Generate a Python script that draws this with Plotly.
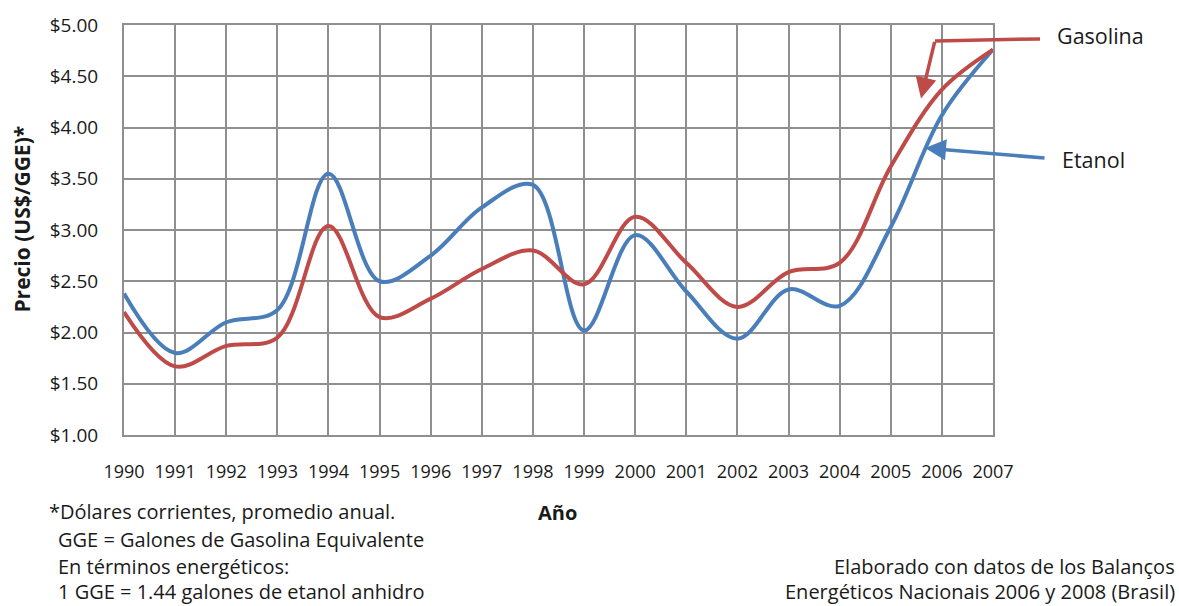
import plotly.graph_objects as go

years = list(range(1990, 2008))
etanol = [2.38, 1.80, 2.10, 2.22, 3.55, 2.50, 2.75, 3.22, 3.44, 2.02, 2.95, 2.40, 1.94, 2.42, 2.26, 3.03, 4.12, 4.76]
gasolina = [2.20, 1.67, 1.87, 1.95, 3.04, 2.15, 2.33, 2.62, 2.80, 2.47, 3.13, 2.68, 2.25, 2.59, 2.68, 3.62, 4.37, 4.76]
y_ticks = [1.0, 1.5, 2.0, 2.5, 3.0, 3.5, 4.0, 4.5, 5.0]
y_tick_labels = ["$%.2f" % v for v in y_ticks]

W, H = 1179, 606
L, R, T, B = 124, 993, 22, 435
def px(x): return (x - L) / (R - L)
def py(y): return (B - y) / (B - T)

FONT = "Open Sans, sans-serif"
BLUE = "#4a7ebb"
RED = "#be4b48"
TXT = "#1a1a1a"

fig = go.Figure()
fig.add_trace(go.Scatter(x=years, y=etanol, mode="lines", name="Etanol",
                         line=dict(color=BLUE, width=4, shape="spline", smoothing=1.0)))
fig.add_trace(go.Scatter(x=years, y=gasolina, mode="lines", name="Gasolina",
                         line=dict(color=RED, width=4, shape="spline", smoothing=1.0)))

fig.update_layout(
    width=W, height=H,
    margin=dict(l=L, r=W - R, t=T, b=H - B),
    paper_bgcolor="white", plot_bgcolor="white",
    showlegend=False,
    font=dict(family=FONT, size=20, color=TXT),
    xaxis=dict(range=[1990, 2007], tickmode="array", tickvals=years,
               ticktext=[str(y) for y in years], showgrid=True, gridcolor="#8f8f8f",
               gridwidth=2, showline=True, linecolor="#8f8f8f", linewidth=2,
               ticks="", ticklabelstandoff=19, tickfont=dict(size=18), mirror=True,
               zeroline=False),
    yaxis=dict(range=[1.0, 5.0], tickmode="array", tickvals=y_ticks, ticktext=y_tick_labels,
               showgrid=True, gridcolor="#8f8f8f", gridwidth=2, showline=True,
               linecolor="#8f8f8f", linewidth=2, ticks="", ticklabelstandoff=20,
               tickfont=dict(size=19), mirror=True, zeroline=False),
)

# y-axis title placed explicitly
fig.add_annotation(xref="paper", yref="paper", x=px(22), y=py(218), xanchor="center",
                   yanchor="middle", text="<b>Precio (US$/GGE)*</b>", textangle=-90,
                   showarrow=False, font=dict(size=21))

# Arrows and labels
fig.add_shape(type="line", xref="paper", yref="paper",
              x0=px(935), y0=py(38), x1=px(1040), y1=py(36),
              line=dict(color=RED, width=3.5))
fig.add_annotation(xref="paper", yref="paper", x=px(921), y=py(96), ax=14, ay=-58,
                   text="", showarrow=True, arrowhead=2, arrowsize=1.2, arrowwidth=3.5,
                   arrowcolor=RED)
fig.add_annotation(xref="paper", yref="paper", x=px(925), y=py(146), ax=121, ay=10,
                   text="", showarrow=True, arrowhead=2, arrowsize=1.2, arrowwidth=3.5,
                   arrowcolor=BLUE)
fig.add_annotation(xref="paper", yref="paper", x=px(1055), y=py(33), xanchor="left",
                   yanchor="middle", text="Gasolina", showarrow=False, font=dict(size=21.5))
fig.add_annotation(xref="paper", yref="paper", x=px(1060), y=py(157), xanchor="left",
                   yanchor="middle", text="Etanol", showarrow=False, font=dict(size=21.5))

fig.add_annotation(xref="paper", yref="paper", x=px(557), y=py(513), xanchor="center",
                   yanchor="middle", text="<b>Año</b>", showarrow=False, font=dict(size=20))

notes = [(47, 512, "*Dólares corrientes, promedio anual."),
         (56, 540, "GGE = Galones de Gasolina Equivalente"),
         (56, 567, "En términos energéticos:"),
         (56, 593, "1 GGE = 1.44 galones de etanol anhidro")]
for x, y, t in notes:
    fig.add_annotation(xref="paper", yref="paper", x=px(x), y=py(y), xanchor="left",
                       yanchor="middle", text=t, showarrow=False, font=dict(size=20))

for y, t in [(567, "Elaborado con datos de los Balanços"),
             (593, "Energéticos Nacionais 2006 y 2008 (Brasil)")]:
    fig.add_annotation(xref="paper", yref="paper", x=px(1177), y=py(y), xanchor="right",
                       yanchor="middle", text=t, showarrow=False, font=dict(size=20))

fig.write_html("out.html", config={"displayModeBar": False},
               post_script="document.body.style.margin='0';")
